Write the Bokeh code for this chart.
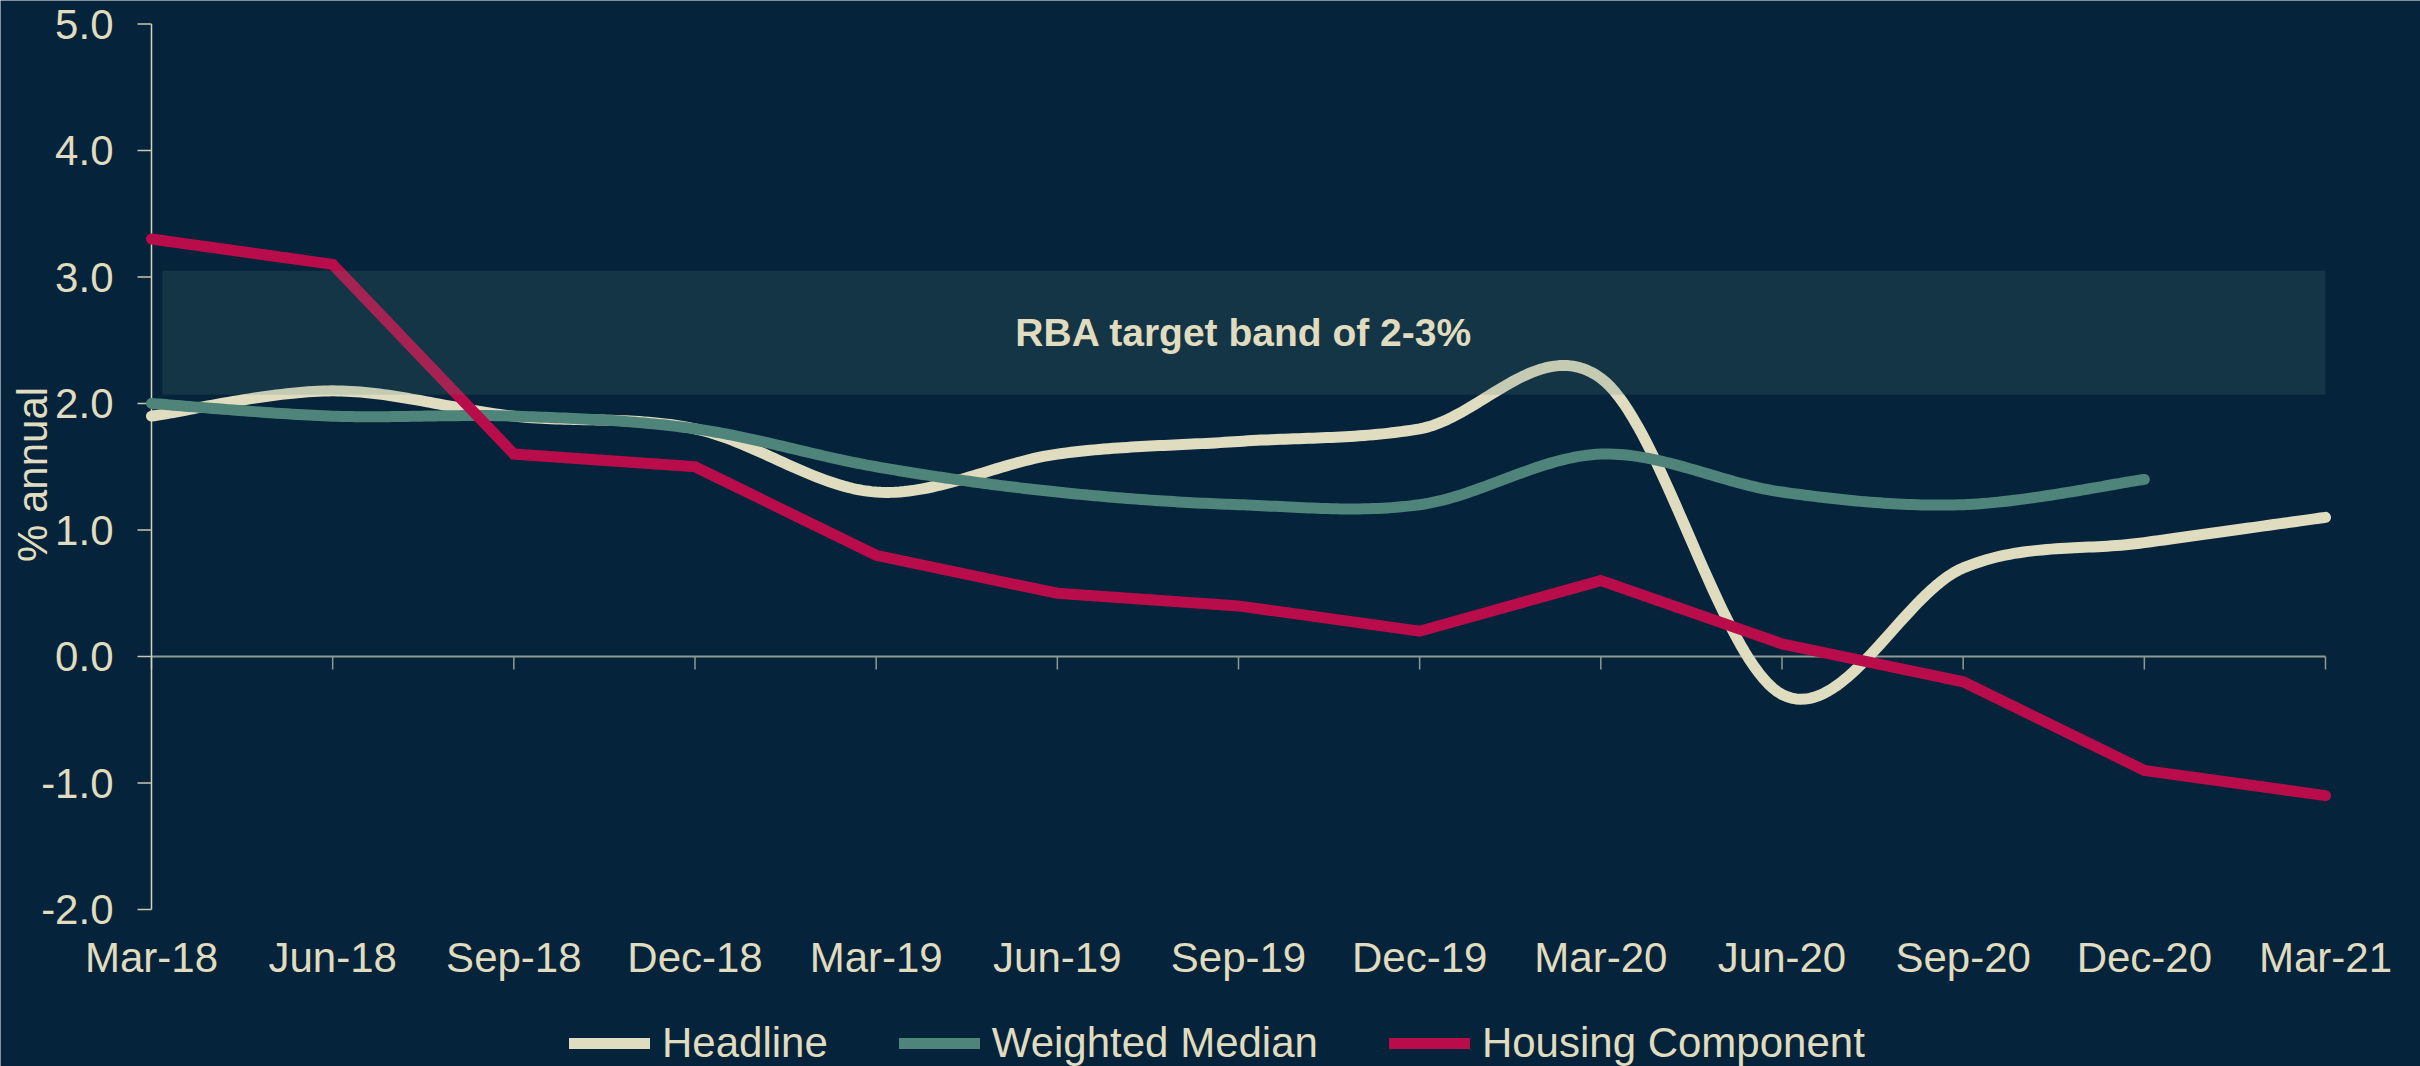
import numpy as np
from bokeh.plotting import figure
from bokeh.models import Legend, LegendItem
from bokeh.core.properties import value
from bokeh.embed import file_html
from bokeh.resources import INLINE

# ---------------- data ----------------
quarters = ["Mar-18", "Jun-18", "Sep-18", "Dec-18", "Mar-19", "Jun-19", "Sep-19",
            "Dec-19", "Mar-20", "Jun-20", "Sep-20", "Dec-20", "Mar-21"]
headline = [1.9, 2.1, 1.9, 1.8, 1.3, 1.6, 1.7, 1.8, 2.2, -0.3, 0.7, 0.9, 1.1]
weighted_median = [2.0, 1.9, 1.9, 1.8, 1.5, 1.3, 1.2, 1.2, 1.6, 1.3, 1.2, 1.4]
housing = [3.3, 3.1, 1.6, 1.5, 0.8, 0.5, 0.4, 0.2, 0.6, 0.1, -0.2, -0.9, -1.1]
band_low, band_high = 2.07, 3.05
band_start, band_end = 0.06, 12.0
y_ticks = [-2, -1, 0, 1, 2, 3, 4, 5]
y_tick_labels = ["-2.0", "-1.0", "0.0", "1.0", "2.0", "3.0", "4.0", "5.0"]
y_title = "% annual"
band_title = "RBA target band of 2-3%"

# ---------------- layout (pixels) ----------------
W, H = 2420, 1066
AX_LEFT, AX_RIGHT = 151, 2325      # pixel x of first / last quarter
AX_TOP, AX_BOTTOM = 23.5, 909      # pixel y of top / bottom y tick
n_q = len(quarters)
px_per_x = (AX_RIGHT - AX_LEFT) / (n_q - 1)
px_per_y = (AX_BOTTOM - AX_TOP) / (y_ticks[-1] - y_ticks[0])
x_start = -AX_LEFT / px_per_x
x_end = (n_q - 1) + (W - AX_RIGHT) / px_per_x
y_end = y_ticks[-1] + AX_TOP / px_per_y
y_start = y_ticks[0] - (H - AX_BOTTOM) / px_per_y

# ---------------- styles ----------------
BG = "#05233A"
CREAM = "#E0DCBF"
TEAL = "#4E8479"
CRIMSON = "#B80D4A"
GREY = "#8E9A94"
AXIS = "#D6D4BE"
FONT = "Liberation Sans"
LW = 11


def smooth(ys, n=40):
    """Excel-like smoothed line (Catmull-Rom Bezier through the data points)."""
    pts = np.column_stack([np.arange(len(ys), dtype=float), np.asarray(ys, float)])
    xs_out, ys_out = [], []
    t = np.linspace(0, 1, n)[:, None]
    for i in range(len(pts) - 1):
        p0 = pts[i - 1] if i > 0 else pts[i]
        p1 = pts[i]
        p2 = pts[i + 1]
        p3 = pts[i + 2] if i + 2 < len(pts) else pts[i + 1]
        c1 = p1 + (p2 - p0) / 6.0
        c2 = p2 - (p3 - p1) / 6.0
        b = ((1 - t) ** 3) * p1 + 3 * ((1 - t) ** 2) * t * c1 + 3 * (1 - t) * t ** 2 * c2 + t ** 3 * p2
        if i > 0:
            b = b[1:]
        xs_out.extend(b[:, 0])
        ys_out.extend(b[:, 1])
    return xs_out, ys_out


p = figure(width=W, height=H, x_range=(x_start, x_end), y_range=(y_start, y_end),
           output_backend="svg", toolbar_location=None,
           x_axis_location=None, y_axis_location=None, min_border=0)
p.background_fill_color = BG
p.border_fill_color = BG
p.outline_line_color = None
p.grid.visible = False

xs = list(range(n_q))

# zero line and x ticks hanging from it
p.segment(x0=[xs[0]], y0=[0], x1=[xs[-1]], y1=[0], line_color=GREY, line_width=2)
p.ray(x=xs, y=[0] * n_q, length=13, length_units="screen",
      angle=-np.pi / 2, line_color=GREY, line_width=1.5)

# y axis line, ticks and labels
p.segment(x0=[0], y0=[y_ticks[0]], x1=[0], y1=[y_ticks[-1]], line_color=AXIS, line_width=1.5)
p.ray(x=[0] * len(y_ticks), y=y_ticks, length=14, length_units="screen",
      angle=np.pi, line_color="#C9C8B4", line_width=1.5)
p.text(x=[0] * len(y_ticks), y=y_ticks, text=y_tick_labels, x_offset=-38, y_offset=0,
       text_font=value(FONT), text_font_size=value("42px"), text_color=CREAM,
       text_align="right", text_baseline="middle")

# x tick labels under the plot
p.text(x=xs, y=[y_ticks[0]] * n_q, text=quarters, y_offset=48,
       text_font=value(FONT), text_font_size=value("42px"), text_color=CREAM,
       text_align="center", text_baseline="middle")

# y axis title
p.text(x=[0], y=[0], text=[y_title], x_offset=-119, y_offset=-182, angle=np.pi / 2,
       text_font=value(FONT), text_font_size=value("42px"), text_color=CREAM,
       text_align="center", text_baseline="middle")

hx, hy = smooth(headline)
mx, my = smooth(weighted_median)
r_h = p.line(hx, hy, line_color=CREAM, line_width=LW, line_join="round", line_cap="round")
r_m = p.line(mx, my, line_color=TEAL, line_width=LW, line_join="round", line_cap="round")
r_k = p.line(xs, housing, line_color=CRIMSON, line_width=LW, line_join="miter", line_cap="round")

# target band on top (translucent)
p.quad(left=[band_start], right=[band_end], bottom=[band_low], top=[band_high],
       fill_color=TEAL, fill_alpha=0.19, line_color=None)
p.text(x=[(band_start + band_end) / 2], y=[(band_low + band_high) / 2], text=[band_title],
       text_font=value(FONT), text_font_style="bold", text_font_size=value("39px"),
       text_color=CREAM, text_align="center", text_baseline="middle")

legend = Legend(items=[LegendItem(label="Headline", renderers=[r_h]),
                       LegendItem(label="Weighted Median", renderers=[r_m]),
                       LegendItem(label="Housing Component", renderers=[r_k])],
                orientation="horizontal", location=(569, -1),
                label_text_font=FONT, label_text_font_size="42px", label_text_color=CREAM,
                label_text_baseline="middle", label_height=30,
                glyph_width=81, glyph_height=30, label_standoff=12, spacing=71,
                padding=0, margin=0, border_line_color=None, background_fill_alpha=0)
p.add_layout(legend)

open("out.html", "w").write(file_html(p, INLINE))
